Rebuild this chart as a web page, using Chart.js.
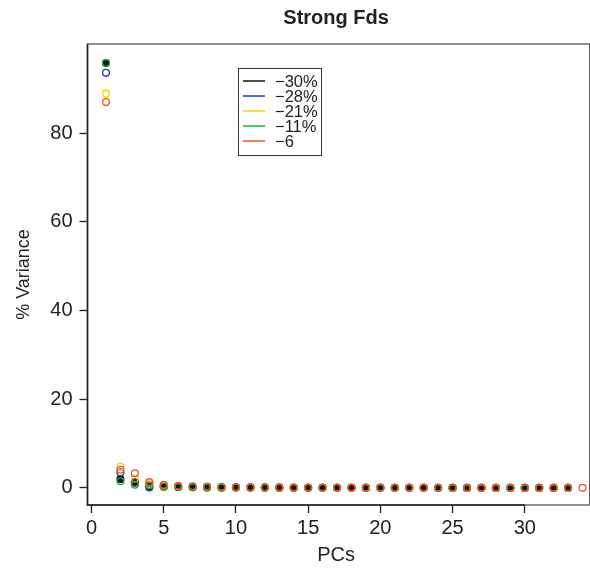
<!DOCTYPE html>
<html>
<head>
<meta charset="utf-8">
<script src="https://cdn.jsdelivr.net/npm/chart.js@4"></script>
<style>
    html, body { margin: 0; padding: 0; background: #ffffff; }
    #wrap { width: 590px; height: 569px; }
</style>
</head>
<body>
<div id="wrap"><canvas id="chartVariance" width="590" height="569"></canvas></div>
<script>
// principal components on the x axis
const pcs = [1, 2, 3, 4, 5, 6, 7, 8, 9, 10, 11, 12, 13, 14, 15, 16, 17, 18, 19, 20,
    21, 22, 23, 24, 25, 26, 27, 28, 29, 30, 31, 32, 33, 34];

const seriesLabels = ['\u221230%', '\u221228%', '\u221221%', '\u221211%', '\u22126'];

// % variance per PC
const var30 = [95.8, 2.0, 1.2, 0.3, 0.3, 0.2, 0.15, 0.12, 0.1, 0.1, 0.08, 0.07, 0.06, 0.05, 0.05, 0.04,
    0.04, 0.03, 0.03, 0.03, 0.02, 0.02, 0.02, 0.02, 0.01, 0.01, 0.01, 0.01, 0.01, 0.01, 0.01, 0.01, 0.01];
const var28 = [93.6, 3.5, 1.2, 0.1, 0.3, 0.3, 0.2, 0.15, 0.12, 0.1, 0.08, 0.07, 0.06, 0.05, 0.05, 0.04,
    0.04, 0.03, 0.03, 0.03, 0.02, 0.02, 0.02, 0.02, 0.01, 0.01, 0.01, 0.01, 0.01, 0.01, 0.01, 0.01, 0.01];
const var21 = [88.9, 4.8, 2.1, 0.9, 0.5, 0.4, 0.3, 0.2, 0.15, 0.12, 0.1, 0.08, 0.07, 0.06, 0.05, 0.05,
    0.04, 0.04, 0.03, 0.03, 0.03, 0.02, 0.02, 0.02, 0.02, 0.01, 0.01, 0.01, 0.01, 0.01, 0.01, 0.01, 0.01];
const var11 = [95.8, 1.5, 0.7, 0.6, 0.3, 0.2, 0.15, 0.12, 0.1, 0.08, 0.07, 0.06, 0.05, 0.05, 0.04, 0.04,
    0.03, 0.03, 0.03, 0.02, 0.02, 0.02, 0.02, 0.01, 0.01, 0.01, 0.01, 0.01, 0.01, 0.01, 0.01, 0.01, 0.01];
const var6 = [87.0, 4.1, 3.3, 1.3, 0.7, 0.5, 0.35, 0.3, 0.25, 0.2, 0.18, 0.15, 0.12, 0.1, 0.1, 0.08,
    0.08, 0.07, 0.06, 0.06, 0.05, 0.05, 0.04, 0.04, 0.04, 0.03, 0.03, 0.03, 0.03, 0.02, 0.02, 0.02, 0.02, 0.02];

const xTicks = [0, 5, 10, 15, 20, 25, 30];
const yTicks = [0, 20, 40, 60, 80];

const seriesValues = [var30, var28, var21, var11, var6];
const seriesColors = ['#111111', '#2a36a8', '#f2d800', '#1faa3c', '#f05420'];

const FONT = 'Liberation Sans, Arial, sans-serif';

function toPoints(values) {
    return values.map((v, i) => ({ x: pcs[i], y: v }));
}

const datasets = seriesValues.map((vals, i) => ({
    label: seriesLabels[i],
    data: toPoints(vals),
    showLine: false,
    clip: false,
    pointStyle: 'circle',
    pointRadius: 3.4,
    pointBorderWidth: 1.3,
    pointBorderColor: seriesColors[i],
    pointBackgroundColor: i === 0 ? seriesColors[i] : 'rgba(0,0,0,0)',
    borderColor: seriesColors[i],
    backgroundColor: seriesColors[i],
    order: seriesValues.length - 1 - i
}));

// frame around the plot, darker axis segments, and the inset legend
const framePlugin = {
    id: 'frame',
    afterDraw(chart) {
        const ctx = chart.ctx;
        const a = chart.chartArea;
        const xs = chart.scales.x;
        ctx.save();
        ctx.strokeStyle = '#555555';
        ctx.lineWidth = 1.3;
        ctx.strokeRect(a.left, a.top, a.right - a.left + 5, a.bottom - a.top);

        ctx.strokeStyle = '#222222';
        ctx.lineWidth = 1.6;
        ctx.beginPath();
        ctx.moveTo(xs.getPixelForValue(xTicks[0]) - 5, a.bottom);
        ctx.lineTo(xs.getPixelForValue(xTicks[xTicks.length - 1]), a.bottom);
        ctx.moveTo(a.left, a.bottom);
        ctx.lineTo(a.left, a.top);
        ctx.stroke();

        // legend box
        const lx = 238, ly = 68, lw = 83, lh = 87;
        ctx.fillStyle = '#ffffff';
        ctx.fillRect(lx, ly, lw, lh);
        ctx.strokeStyle = '#333333';
        ctx.lineWidth = 1;
        ctx.strokeRect(lx + 0.5, ly + 0.5, lw, lh);
        ctx.font = '16.5px ' + FONT;
        ctx.textBaseline = 'middle';
        chart.data.datasets.forEach((ds, i) => {
            const y = ly + 13 + i * 15;
            ctx.strokeStyle = seriesColors[i];
            ctx.lineWidth = 1.5;
            ctx.beginPath();
            ctx.moveTo(lx + 5, y);
            ctx.lineTo(lx + 27, y);
            ctx.stroke();
            ctx.fillStyle = '#222222';
            ctx.fillText(ds.label, lx + 37, y + 1);
        });
        ctx.restore();
    }
};

new Chart(document.getElementById('chartVariance'), {
    type: 'scatter',
    data: { datasets: datasets },
    plugins: [framePlugin],
    options: {
        responsive: false,
        animation: false,
        events: [],
        layout: { padding: 0 },
        plugins: {
            legend: { display: false },
            tooltip: { enabled: false },
            title: {
                display: true,
                text: 'Strong Fds',
                fullSize: false,
                color: '#222222',
                font: { family: FONT, size: 20, weight: 'bold' },
                padding: { top: 6, bottom: 14 }
            }
        },
        scales: {
            x: {
                type: 'linear',
                min: -0.28,
                max: 34.15,
                afterFit(scale) { scale.height = 64; },
                afterBuildTicks(scale) { scale.ticks = xTicks.map(v => ({ value: v })); },
                border: { display: false },
                grid: { drawOnChartArea: false, drawTicks: true, tickLength: 8, tickColor: '#222222', tickWidth: 1.3 },
                ticks: { color: '#222222', font: { family: FONT, size: 20 }, padding: 3, maxRotation: 0 },
                title: {
                    display: true,
                    text: 'PCs',
                    color: '#222222',
                    font: { family: FONT, size: 20 },
                    padding: { top: 0, bottom: 2 }
                }
            },
            y: {
                type: 'linear',
                min: -3.85,
                max: 100.1,
                afterFit(scale) { scale.width = 87.5; },
                afterBuildTicks(scale) { scale.ticks = yTicks.map(v => ({ value: v })); },
                border: { display: false },
                grid: { drawOnChartArea: false, drawTicks: true, tickLength: 8, tickColor: '#222222', tickWidth: 1.3 },
                ticks: { color: '#222222', font: { family: FONT, size: 20 }, padding: 7 },
                title: {
                    display: true,
                    text: '% Variance',
                    color: '#222222',
                    font: { family: FONT, size: 18 },
                    padding: { top: 13, bottom: 0 }
                }
            }
        }
    }
});
</script>
</body>
</html>
